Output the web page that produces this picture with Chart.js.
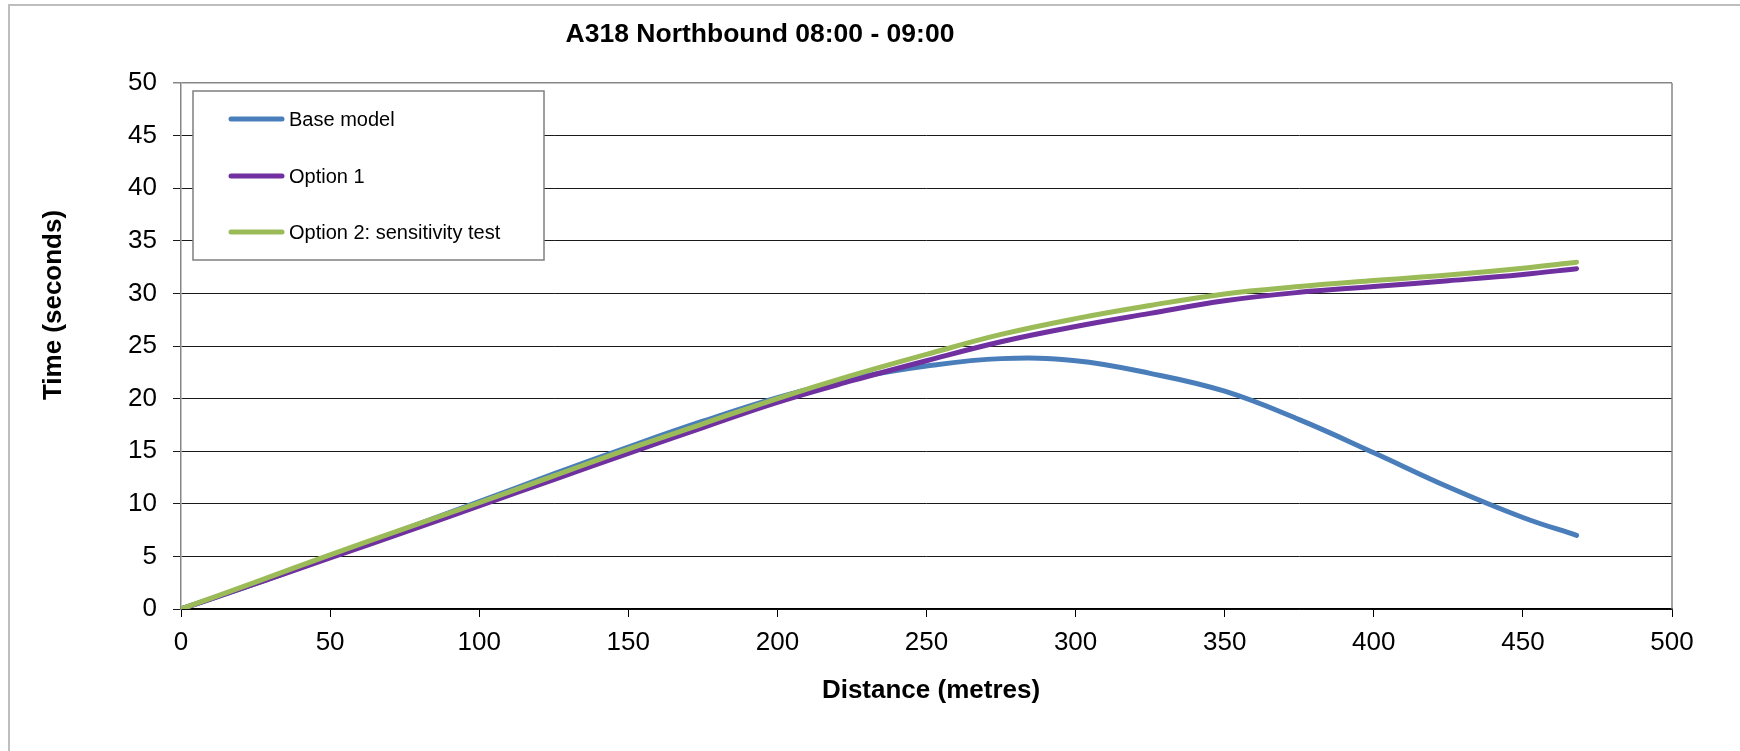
<!DOCTYPE html>
<html>
<head>
<meta charset="utf-8">
<script src="https://cdn.jsdelivr.net/npm/chart.js@4/dist/chart.umd.min.js"></script>
<style>
html,body{margin:0;padding:0;background:#fff;}
#wrap{position:relative;width:1740px;height:751px;}
</style>
</head>
<body>
<div id="wrap"><canvas id="c" width="1740" height="751"></canvas></div>
<script>
const chartTitle = 'A318 Northbound 08:00 - 09:00';
const xTitle = 'Distance (metres)';
const yTitle = 'Time (seconds)';
const seriesNames = ['Base model', 'Option 1', 'Option 2: sensitivity test'];
const seriesColors = ['#4A7EBB', '#7030A0', '#9BBB59'];
const distances = [0,25,50,75,100,125,150,175,200,225,250,275,300,325,350,375,400,425,450,468];
const baseModel = [0,2.4,5.0,7.6,10.2,12.85,15.4,17.85,20.1,21.9,23.1,23.8,23.6,22.4,20.7,18.0,14.85,11.6,8.7,7.0];
const option1   = [0,2.4,4.85,7.3,9.8,12.3,14.8,17.25,19.65,21.7,23.6,25.4,26.85,28.1,29.3,30.1,30.65,31.2,31.8,32.35];
const option2   = [0,2.55,5.15,7.65,10.1,12.65,15.2,17.6,20.0,22.2,24.2,26.1,27.6,28.85,29.95,30.65,31.22,31.75,32.4,32.97];
const xTicks = [0,50,100,150,200,250,300,350,400,450,500];
const yTicks = [0,5,10,15,20,25,30,35,40,45,50];

const FONT = '"Liberation Sans", Arial, sans-serif';
const toXY = arr => distances.map((d, i) => ({x: d, y: arr[i]}));
const allSeries = [baseModel, option1, option2];

const decor = {
  id: 'decor',
  beforeDraw(chart) {
    const ctx = chart.ctx;
    ctx.save();
    ctx.fillStyle = '#fff';
    ctx.fillRect(0, 0, chart.width, chart.height);
    ctx.strokeStyle = '#BEBEBE';
    ctx.lineWidth = 2;
    ctx.beginPath();
    ctx.moveTo(9, chart.height);
    ctx.lineTo(9, 5);
    ctx.lineTo(chart.width, 5);
    ctx.stroke();
    ctx.restore();
  },
  afterDatasetsDraw(chart) {
    const ctx = chart.ctx;
    const a = chart.chartArea;
    ctx.save();
    ctx.strokeStyle = '#868686';
    ctx.lineWidth = 1.5;
    ctx.beginPath();
    ctx.moveTo(a.right, a.top);
    ctx.lineTo(a.right, a.bottom);
    ctx.stroke();
    ctx.fillStyle = '#fff';
    ctx.fillRect(193, 91, 351, 169);
    ctx.strokeStyle = '#7F7F7F';
    ctx.lineWidth = 1.5;
    ctx.strokeRect(193, 91, 351, 169);
    const ys = [119, 176, 232];
    chart.data.datasets.forEach((ds, i) => {
      ctx.strokeStyle = ds.borderColor;
      ctx.lineWidth = 5;
      ctx.lineCap = 'round';
      ctx.beginPath();
      ctx.moveTo(231, ys[i]);
      ctx.lineTo(282, ys[i]);
      ctx.stroke();
      ctx.fillStyle = '#000';
      ctx.font = '20px ' + FONT;
      ctx.textAlign = 'left';
      ctx.textBaseline = 'middle';
      ctx.fillText(ds.label, 289, ys[i] + 1);
    });
    ctx.fillStyle = '#000';
    ctx.textAlign = 'center';
    ctx.textBaseline = 'middle';
    ctx.font = 'bold 26.5px ' + FONT;
    ctx.fillText(chartTitle, 760, 35);
    ctx.font = 'bold 26px ' + FONT;
    ctx.fillText(xTitle, 931, 691);
    ctx.translate(54, 305);
    ctx.rotate(-Math.PI / 2);
    ctx.fillText(yTitle, 0, 0);
    ctx.restore();
  }
};

new Chart(document.getElementById('c'), {
  type: 'line',
  data: {
    datasets: allSeries.map((arr, i) => ({
      label: seriesNames[i],
      data: toXY(arr),
      borderColor: seriesColors[i],
      backgroundColor: seriesColors[i],
      borderWidth: 5,
      borderCapStyle: 'round',
      borderJoinStyle: 'round',
      pointRadius: 0,
      tension: 0.4,
      fill: false,
      order: 3 - i
    }))
  },
  options: {
    responsive: false,
    animation: false,
    devicePixelRatio: 1,
    layout: { padding: { left: 81, right: 68, top: 83, bottom: 82 } },
    plugins: { legend: { display: false }, title: { display: false }, tooltip: { enabled: false } },
    scales: {
      x: {
        type: 'linear',
        min: 0, max: 500,
        afterFit: s => { s.height = 60; },
        afterBuildTicks: s => { s.ticks = xTicks.map(v => ({value: v})); },
        ticks: { font: { family: FONT, size: 26 }, color: '#000', padding: 10, maxRotation: 0, autoSkip: false },
        grid: { drawOnChartArea: false, drawTicks: true, tickLength: 8, color: '#000', lineWidth: 1 },
        border: { color: '#000', width: 1.5 }
      },
      y: {
        type: 'linear',
        min: 0, max: 50,
        afterFit: s => { s.width = 100; },
        afterBuildTicks: s => { s.ticks = yTicks.map(v => ({value: v})); },
        ticks: { font: { family: FONT, size: 26 }, color: '#000', padding: 16, autoSkip: false },
        grid: {
          drawTicks: true, tickLength: 8,
          color: c => (c.tick && c.tick.value === 50) ? '#868686' : '#1a1a1a',
          lineWidth: c => (c.tick && c.tick.value === 50) ? 1.5 : 1
        },
        border: { color: '#868686', width: 1.5 }
      }
    }
  },
  plugins: [decor]
});
</script>
</body>
</html>
